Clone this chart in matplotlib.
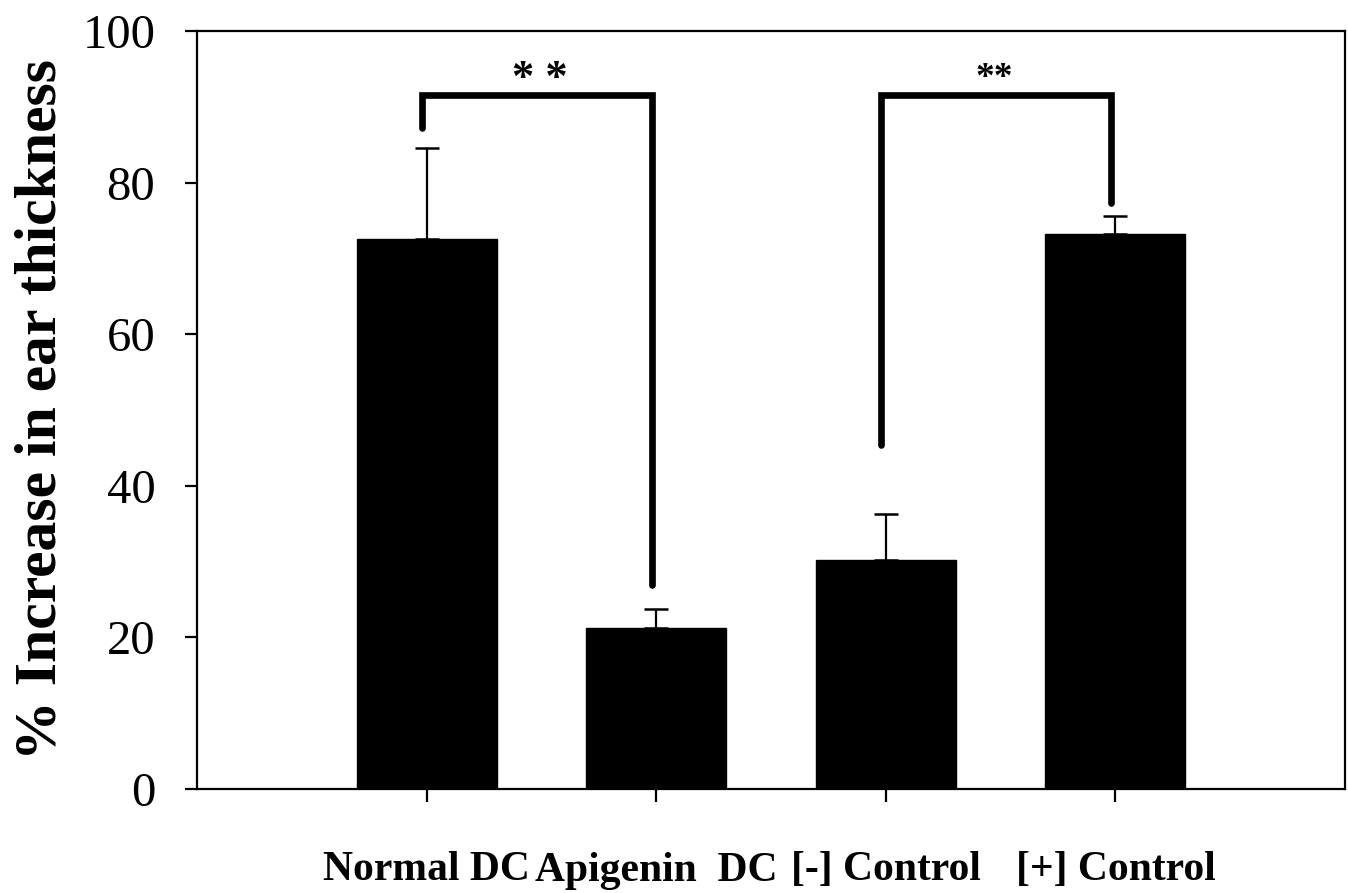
import matplotlib
matplotlib.use("Agg")
import matplotlib.pyplot as plt

groups = ["Normal DC", "Apigenin  DC", "[-] Control", "[+] Control"]
means = [72.6, 21.3, 30.2, 73.2]
errors = [12.0, 2.4, 6.1, 2.4]

# significance brackets: (left bar, right bar, top, left foot, right foot)
brackets = [(0, 1, 91.5, 87.2, 26.9), (2, 3, 91.5, 45.4, 77.3)]
# stars above brackets: (x, y, text, size)
stars = [(0.494, 91.0, "* *", 32), (2.471, 91.4, "**", 27)]

plt.rcParams['font.family'] = ['Liberation Serif', 'DejaVu Serif']

fig = plt.figure(figsize=(13.48, 8.93), dpi=100)
ax = fig.add_axes([197 / 1348, 104 / 893, 1148 / 1348, 758 / 893])

pos = list(range(len(groups)))
lower = [0] * len(errors)
ax.bar(pos, means, width=0.61, color='black', edgecolor='black',
       yerr=[lower, errors], capsize=8.5,
       error_kw=dict(elinewidth=1.6, capthick=1.8, ecolor='black'))

for a, b, top, ya, yb in brackets:
    ax.plot([a - 0.02, a - 0.02, b - 0.02, b - 0.02], [ya, top, top, yb],
            color='black', lw=4.8, solid_joinstyle='miter', solid_capstyle='round')
for x, y, s, fs in stars:
    ax.text(x, y, s, ha='center', va='bottom', fontsize=fs, fontweight='bold')

ax.set_xlim(-1, 4)
ax.set_ylim(0, 100)
ax.set_yticks([0, 20, 40, 60, 80, 100])
ax.set_xticks(pos)
ax.set_xticklabels(groups, fontsize=30, fontweight='bold')
ax.tick_params(axis='y', labelsize=35, length=9, width=1.6, pad=21)
ax.tick_params(axis='x', length=9, width=1.6, pad=36)
ax.set_ylabel("% Increase in ear thickness", fontsize=43, fontweight='bold', labelpad=10)

for s in ax.spines.values():
    s.set_linewidth(1.6)

fig.savefig("out.png", dpi=100)
